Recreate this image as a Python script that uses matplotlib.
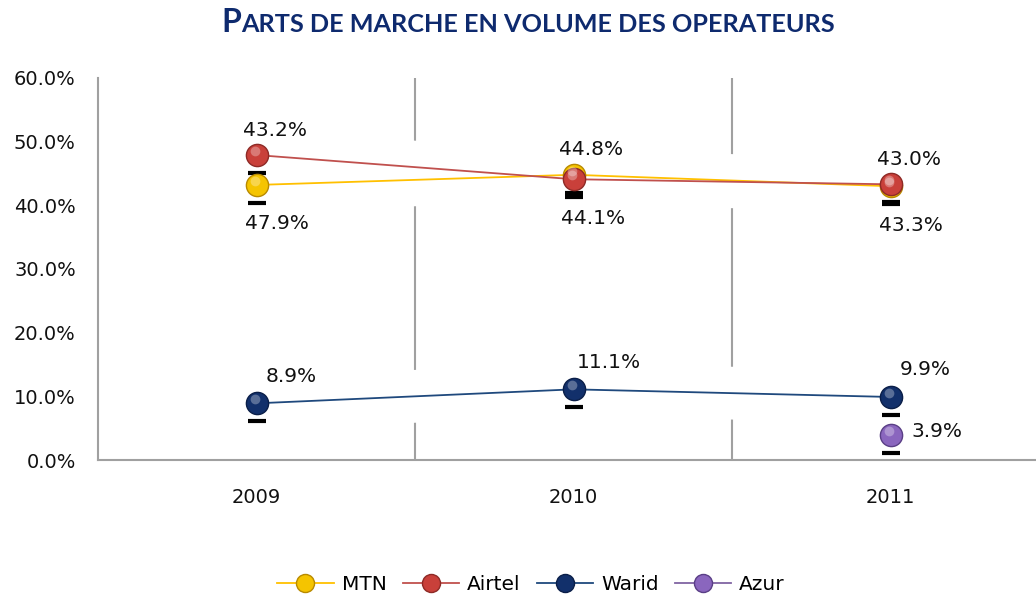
import matplotlib
matplotlib.use("Agg")
import matplotlib.pyplot as plt
from matplotlib.lines import Line2D
from matplotlib.transforms import offset_copy

# données
annees = ["2009", "2010", "2011"]
mtn = [43.2, 44.8, 43.0]
airtel = [47.9, 44.1, 43.3]
warid = [8.9, 11.1, 9.9]
azur_annees = ["2011"]
azur = [3.9]
graduations = [0, 10, 20, 30, 40, 50, 60]

TITRE_P = "P"
TITRE_RESTE = "ARTS DE MARCHE EN VOLUME DES OPERATEURS"
BLEU_TITRE = "#0E2A6E"
GRIS = "#A0A0A0"

# nom, annees, valeurs, couleur ligne, couleur marqueur, bord marqueur
series = [
    ("MTN", annees, mtn, "#FFC000", "#F5C400", "#B88A00"),
    ("Airtel", annees, airtel, "#C0504D", "#C9403A", "#8E2A26"),
    ("Warid", annees, warid, "#1F497D", "#12306B", "#0A1E48"),
    ("Azur", azur_annees, azur, "#8064A2", "#8A66BE", "#5A3F86"),
]


def positions(labels):
    return [annees.index(a) for a in labels]


def tracer_series(fig, ax):
    ombre = offset_copy(ax.transData, fig=fig, y=-18, units="dots")
    reflet = offset_copy(ax.transData, fig=fig, x=-2, y=4, units="dots")
    for nom, ans, vals, c_ligne, c_marq, c_bord in series:
        x = positions(ans)
        # halo blanc qui coupe le quadrillage
        ax.plot(x, vals, color="white", lw=38, solid_capstyle="butt",
                marker="s", markersize=30, markeredgewidth=0, zorder=2.6)
    for nom, ans, vals, c_ligne, c_marq, c_bord in series:
        x = positions(ans)
        ax.plot(x, vals, color=c_ligne, lw=1.3, zorder=3)
        ax.plot(x, vals, ls="none", marker="_", markersize=13,
                markeredgewidth=3, color="black", transform=ombre, zorder=3.1)
        ax.plot(x, vals, ls="none", marker="o", markersize=16,
                markerfacecolor=c_marq, markeredgecolor=c_bord,
                markeredgewidth=1.0, zorder=4)
        ax.plot(x, vals, ls="none", marker="o", markersize=7,
                color="white", alpha=0.3, markeredgewidth=0,
                transform=reflet, zorder=4.1)


def etiqueter(ax):
    style = dict(textcoords="offset pixels", ha="center", va="center",
                 fontsize=14.5, color="#111111", zorder=6)
    for i in range(len(annees)):
        haut = max(mtn[i], airtel[i])
        bas = min(mtn[i], airtel[i])
        ax.annotate(f"{mtn[i]:.1f}%", (i, haut), xytext=(18, 25), **style)
        ax.annotate(f"{airtel[i]:.1f}%", (i, bas), xytext=(20, -39), **style)
        ax.annotate(f"{warid[i]:.1f}%", (i, warid[i]), xytext=(35, 27), **style)
    for a, v in zip(azur_annees, azur):
        ax.annotate(f"{v:.1f}%", (annees.index(a), v), xytext=(46, 4), **style)


def titre(fig):
    y = 1 - 32 / 600
    t1 = fig.text(221 / 1036, y, TITRE_P, fontsize=23, fontweight="bold",
                  color=BLEU_TITRE, family="Lato", va="baseline")
    fig.canvas.draw()
    bb = t1.get_window_extent()
    fig.text(bb.x1 / fig.bbox.width, y, TITRE_RESTE, fontsize=18.2,
             fontweight="bold", color=BLEU_TITRE, family="Lato", va="baseline")


def main() -> None:
    plt.rcParams["font.family"] = "DejaVu Sans"
    fig = plt.figure(figsize=(10.36, 6.0), dpi=100)
    ax = fig.add_axes([98 / 1036, 140 / 600, 951 / 1036, 382 / 600])

    ax.set_xlim(-0.5, 2.5)
    ax.set_ylim(0, 60)
    ax.set_xticks(range(len(annees)))
    ax.set_xticklabels(annees)
    ax.set_yticks(graduations)
    ax.set_yticklabels([f"{g:.1f}%" for g in graduations])
    ax.tick_params(length=0, labelsize=14, colors="#111111")
    ax.tick_params(axis="y", pad=16)
    ax.tick_params(axis="x", pad=20)

    for cote in ("top", "right"):
        ax.spines[cote].set_visible(False)
    for cote in ("left", "bottom"):
        ax.spines[cote].set_color(GRIS)
        ax.spines[cote].set_linewidth(1.5)
        ax.spines[cote].set_zorder(1)

    for xg in (0.5, 1.5):
        ax.axvline(xg, color=GRIS, lw=1.5, zorder=1)

    tracer_series(fig, ax)
    etiqueter(ax)

    poignees = [Line2D([], [], color=c_l, lw=1.3, marker="o", markersize=13,
                       markerfacecolor=c_m, markeredgecolor=c_b)
                for _, _, _, c_l, c_m, c_b in series]
    fig.legend(poignees, [s[0] for s in series], loc="center",
               bbox_to_anchor=(531 / 1036, 1 - 585 / 600), ncol=4,
               frameon=False, fontsize=14.5, handlelength=2.8,
               handletextpad=0.4, columnspacing=0.8)

    titre(fig)
    fig.savefig("out.png", dpi=100)


if __name__ == "__main__":
    main()
